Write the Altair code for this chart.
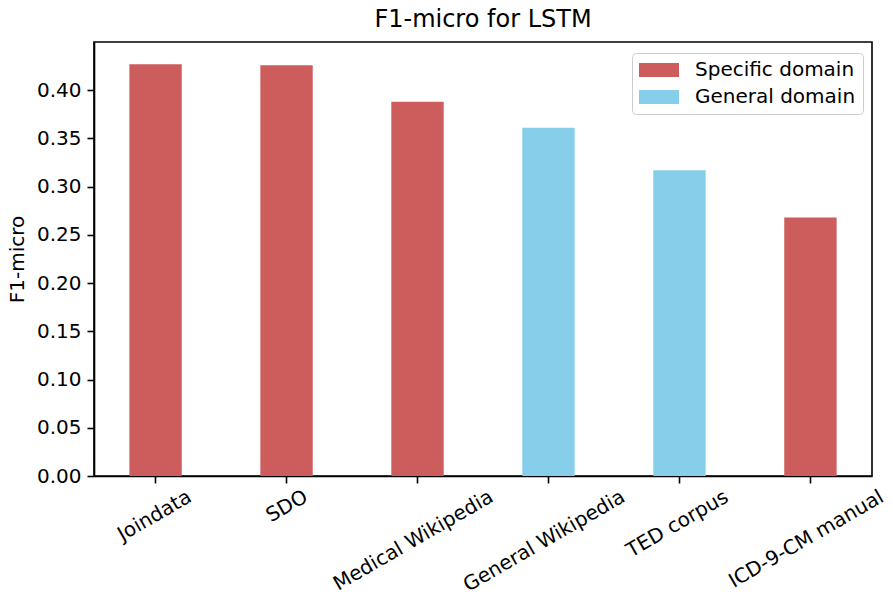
import altair as alt
import pandas as pd

categories = ["Joindata", "SDO", "Medical Wikipedia", "General Wikipedia",
              "TED corpus", "ICD-9-CM manual"]
f1_micro = [0.427, 0.426, 0.388, 0.361, 0.317, 0.268]
domain_type = ["Specific domain", "Specific domain", "Specific domain",
               "General domain", "General domain", "Specific domain"]
y_ticks = [0.00, 0.05, 0.10, 0.15, 0.20, 0.25, 0.30, 0.35, 0.40]

df = pd.DataFrame({"name": categories, "f1": f1_micro, "domain": domain_type})

FONT = "DejaVu Sans"
FS = 20

# approximate DejaVu Sans advance widths (em) for measuring rotated label shift
CW = {"J": .295, "o": .612, "i": .278, "n": .634, "d": .635, "a": .613, "t": .392,
      "S": .635, "D": .770, "O": .787, "M": .863, "e": .615, "c": .550, "l": .278,
      " ": .318, "W": .989, "k": .579, "p": .635, "G": .775, "r": .411, "T": .611,
      "E": .632, "u": .634, "s": .521, "I": .295, "C": .698, "-": .361, "9": .636,
      "m": .974}


def text_w(s):
    return sum(CW.get(ch, 0.6) for ch in s) * FS * 0.92


conds = [{"test": f"datum.label === '{c}'", "value": round(0.433 * text_w(c) + 2, 1)}
         for c in categories]
label_offset = {"condition": conds, "value": 0}

bars = alt.Chart(df).mark_bar().encode(
    x=alt.X("name:N", sort=categories,
            scale=alt.Scale(paddingInner=0.6, paddingOuter=0.27),
            axis=alt.Axis(title=None, labelAngle=-30, labelAlign="right",
                          labelBaseline="middle", labelPadding=12,
                          labelOffset=label_offset, tickSize=7, labelLimit=0,
                          labelFontSize=FS, labelFont=FONT)),
    y=alt.Y("f1:Q", scale=alt.Scale(domain=[0, 0.45], nice=False, zero=True),
            axis=alt.Axis(title="F1-micro", values=y_ticks, format=".2f",
                          tickSize=7, labelPadding=6, labelFontSize=FS,
                          labelFont=FONT, titleFont=FONT, titleFontSize=FS,
                          titleFontWeight="normal", titlePadding=9,
                          grid=False)),
    color=alt.Color("domain:N",
                    scale=alt.Scale(domain=["Specific domain", "General domain"],
                                    range=["#cd5c5c", "#87ceeb"]),
                    legend=alt.Legend(orient="none", legendX=538, legendY=11,
                                      title=None, labelLimit=0,
                                      symbolType="M-1,-0.7L3,-0.7L3,0.7L-1,0.7Z",
                                      symbolSize=400, symbolStrokeWidth=0,
                                      labelFontSize=FS, labelFont=FONT,
                                      labelOffset=36, padding=7, rowPadding=7,
                                      strokeColor="#cccccc", cornerRadius=4,
                                      fillColor="white", labelColor="black")),
)

chart = bars.properties(
    width=778, height=434,
    title=alt.TitleParams("F1-micro for LSTM", fontSize=24, fontWeight="normal",
                          font=FONT, anchor="middle", offset=10, color="black"),
    autosize=alt.AutoSizeParams(type="none"),
    padding={"left": 86, "top": 34, "right": 13, "bottom": 115},
).configure_view(
    stroke="black", strokeWidth=1.6
).configure_axis(
    domainColor="black", domainWidth=1.6, tickColor="black", tickWidth=1.6,
    labelColor="black", titleColor="black"
)

chart.save("out.html", embed_options={"renderer": "svg", "actions": False})
